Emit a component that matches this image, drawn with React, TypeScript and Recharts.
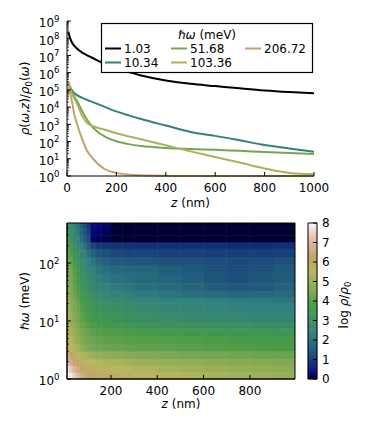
import React from 'react';
import { LineChart, Line, XAxis, YAxis, ComposedChart, Scatter, ReferenceArea } from 'recharts';

const FONT = "'DejaVu Sans', 'Bitstream Vera Sans', sans-serif";

// ---------------- top panel: log10(rho/rho0) vs z ----------------
const Z_NM = [5, 10, 20, 30, 40, 60, 80, 100, 150, 200, 250, 300, 400, 500, 600, 700, 800, 900, 1000];
const LOG_RHO_1_03 = [8.39, 8.12, 7.75, 7.55, 7.4, 7.18, 7.02, 6.88, 6.52, 6.26, 6.03, 5.84, 5.55, 5.35, 5.22, 5.09, 4.97, 4.88, 4.81];
const LOG_RHO_10_34 = [5.45, 5.25, 4.98, 4.8, 4.7, 4.55, 4.43, 4.32, 4.03, 3.75, 3.52, 3.31, 2.93, 2.56, 2.33, 2.07, 1.8, 1.6, 1.41];
const LOG_RHO_51_68 = [5.45, 5.2, 4.85, 4.6, 4.38, 3.8, 3.3, 2.9, 2.32, 2.02, 1.85, 1.74, 1.63, 1.57, 1.52, 1.46, 1.4, 1.34, 1.28];
const LOG_RHO_103_36 = [5.45, 5.2, 4.8, 4.5, 4.22, 3.52, 3.1, 2.92, 2.7, 2.48, 2.3, 2.13, 1.78, 1.43, 1.1, 0.78, 0.44, 0.18, 0.1];
const LOG_RHO_206_72 = [5.45, 5.0, 4.35, 3.55, 3.05, 2.2, 1.5, 1.1, 0.42, 0.18, 0.08, 0.04, 0.01, 0, 0, 0, 0, 0, 0];
const ENERGY_LABELS = ['1.03', '10.34', '51.68', '103.36', '206.72'];
const SERIES_COLORS = ['#000000', '#31837a', '#79a552', '#a8b25c', '#c3a364'];
const TOP_X_TICKS = [0, 200, 400, 600, 800, 1000];
const TOP_Y_DECADES = [0, 1, 2, 3, 4, 5, 6, 7, 8, 9];

// ---------------- bottom panel: heat map of log10(rho/rho0) ----------------
const HEAT_Z_EDGES = [10, 20, 35, 50, 65, 80, 95, 113, 135, 160, 200, 250, 300, 400, 500, 600, 700, 800, 900, 995];
const HEAT_OMEGA_EDGES = [1, 1.3, 1.7, 2.2, 3, 4, 5.5, 7.5, 10, 14, 20, 25, 32, 45, 65, 90, 125, 175, 230, 300, 400, 490];
// rows from lowest energy (bottom) to highest energy (top); one value per z column
const HEAT_LOG_RHO = [
  [8.0, 7.8, 7.45, 7.1, 6.8, 6.55, 6.35, 6.2, 6.1, 6.0, 5.9, 5.8, 5.65, 5.5, 5.4, 5.3, 5.2, 5.1, 5.0],
  [7.75, 7.35, 7.0, 6.65, 6.4, 6.2, 6.05, 5.95, 5.85, 5.75, 5.65, 5.55, 5.4, 5.25, 5.15, 5.05, 4.95, 4.85, 4.8],
  [7.2, 6.85, 6.5, 6.2, 6.0, 5.85, 5.7, 5.6, 5.5, 5.4, 5.3, 5.2, 5.05, 4.95, 4.85, 4.75, 4.7, 4.6, 4.55],
  [6.7, 6.35, 6.0, 5.7, 5.5, 5.35, 5.2, 5.1, 5.0, 4.9, 4.8, 4.7, 4.6, 4.5, 4.4, 4.35, 4.3, 4.25, 4.2],
  [6.0, 5.7, 5.4, 5.1, 4.85, 4.65, 4.5, 4.4, 4.3, 4.2, 4.15, 4.1, 4.05, 4.0, 3.95, 3.9, 3.85, 3.8, 3.75],
  [5.8, 5.5, 5.2, 4.9, 4.65, 4.45, 4.3, 4.2, 4.1, 4.05, 4.0, 3.95, 3.9, 3.85, 3.8, 3.75, 3.7, 3.65, 3.6],
  [5.6, 5.3, 5.0, 4.7, 4.45, 4.25, 4.1, 4.0, 3.9, 3.85, 3.8, 3.75, 3.7, 3.6, 3.55, 3.5, 3.45, 3.4, 3.35],
  [5.4, 5.1, 4.8, 4.5, 4.25, 4.05, 3.9, 3.75, 3.65, 3.55, 3.45, 3.35, 3.25, 3.15, 3.05, 3.0, 2.95, 2.9, 2.85],
  [5.3, 5.0, 4.65, 4.35, 4.1, 3.9, 3.7, 3.55, 3.4, 3.3, 3.2, 3.1, 2.95, 2.8, 2.7, 2.65, 2.6, 2.55, 2.5],
  [5.2, 4.85, 4.5, 4.2, 3.95, 3.7, 3.5, 3.35, 3.2, 3.05, 2.95, 2.85, 2.7, 2.55, 2.45, 2.4, 2.35, 2.3, 2.25],
  [5.1, 4.75, 4.4, 4.1, 3.8, 3.55, 3.35, 3.15, 3.0, 2.85, 2.75, 2.65, 2.5, 2.4, 2.3, 2.25, 2.2, 2.15, 2.1],
  [5.0, 4.6, 4.25, 3.9, 3.6, 3.35, 3.1, 2.9, 2.7, 2.55, 2.4, 2.3, 2.15, 2.05, 1.95, 1.85, 1.8, 1.8, 1.85],
  [4.9, 4.5, 4.1, 3.75, 3.45, 3.15, 2.9, 2.65, 2.45, 2.3, 2.15, 2.05, 1.95, 1.85, 1.75, 1.6, 1.5, 1.55, 1.65],
  [4.8, 4.4, 4.0, 3.6, 3.3, 3.0, 2.7, 2.45, 2.25, 2.1, 2.0, 1.9, 1.8, 1.7, 1.6, 1.45, 1.35, 1.45, 1.55],
  [4.7, 4.3, 3.85, 3.45, 3.1, 2.8, 2.5, 2.25, 2.05, 1.9, 1.8, 1.75, 1.7, 1.6, 1.5, 1.4, 1.3, 1.4, 1.5],
  [4.5, 4.1, 3.65, 3.25, 2.9, 2.55, 2.25, 2.0, 1.8, 1.65, 1.55, 1.5, 1.45, 1.4, 1.35, 1.3, 1.25, 1.3, 1.35],
  [4.2, 3.8, 3.35, 2.95, 2.6, 2.25, 1.95, 1.65, 1.45, 1.35, 1.25, 1.2, 1.2, 1.15, 1.15, 1.1, 1.1, 1.1, 1.15],
  [3.9, 3.45, 3.0, 2.6, 2.25, 1.9, 1.6, 1.2, 1.0, 0.95, 0.9, 0.9, 0.85, 0.85, 0.85, 0.85, 0.8, 0.8, 0.85],
  [3.6, 3.15, 2.7, 2.3, 1.95, 1.6, 1.3, 0.2, 0.15, 0.1, 0.05, 0.05, 0.05, 0.05, 0.05, 0.05, 0.05, 0.05, 0.05],
  [3.4, 2.95, 2.5, 2.1, 1.75, 1.4, 1.1, 0.3, 0.25, 0.15, 0.05, 0.05, 0.05, 0.05, 0.05, 0.05, 0.05, 0.05, 0.05],
  [3.2, 2.8, 2.35, 1.95, 1.6, 1.25, 0.95, 0.35, 0.3, 0.25, 0.05, 0.05, 0.05, 0.05, 0.05, 0.05, 0.05, 0.05, 0.05],
];
const HEAT_X_TICKS = [200, 400, 600, 800];
const HEAT_OMEGA_DOMAIN = [1, 490];
const COLORBAR_TICKS = [0, 1, 2, 3, 4, 5, 6, 7, 8];

// ---------------- gist_earth colour map (style) ----------------
const GE_R: number[][] = [[0, 0], [0.2824, 0.1882], [0.4588, 0.2714], [0.549, 0.4719], [0.698, 0.7176], [0.7882, 0.7553], [1, 0.9922]];
const GE_G: number[][] = [[0, 0], [0.0275, 0], [0.1098, 0.1893], [0.1647, 0.3035], [0.2078, 0.3841], [0.2824, 0.502], [0.5216, 0.6397], [0.698, 0.7171], [0.7882, 0.6392], [0.8157, 0.6549], [0.8667, 0.6991], [0.898, 0.743], [0.9412, 0.8275], [0.9647, 0.8816], [0.9961, 0.9733], [1, 0.9843]];
const GE_B: number[][] = [[0, 0], [0.0039, 0.1684], [0.0078, 0.2212], [0.0275, 0.4329], [0.0314, 0.4549], [0.2824, 0.5004], [0.4667, 0.2748], [0.5451, 0.3205], [0.7843, 0.3961], [0.8941, 0.6651], [1, 0.9843]];
const seg = (pts: number[][], t: number) => {
  for (let i = 1; i < pts.length; i++) {
    if (t <= pts[i][0]) {
      const [t0, v0] = pts[i - 1];
      const [t1, v1] = pts[i];
      return v0 + ((t - t0) / (t1 - t0)) * (v1 - v0);
    }
  }
  return pts[pts.length - 1][1];
};
const gistEarth = (v: number) => {
  const t = Math.max(0, Math.min(1, v / 8));
  const c = (x: number) => Math.round(x * 255);
  return `rgb(${c(seg(GE_R, t))},${c(seg(GE_G, t))},${c(seg(GE_B, t))})`;
};

// ---------------- tick renderers (inward ticks, matplotlib classic) ----------------
const isDecade = (v: number) => Math.abs(v - Math.round(v)) < 1e-9;
const Pow10 = ({ x, y, n }: any) => (
  <text x={x} y={y} textAnchor="end" fontSize={12} fontFamily={FONT} fill="#000">
    10<tspan dy={-5.5} fontSize={8.5}>{n}</tspan>
  </text>
);

const LeftLogValueTick = (p: any) => {
  const { x, y, payload } = p;
  const v = payload.value;
  const maj = isDecade(v);
  return (
    <g>
      <line x1={x} x2={x + (maj ? 4 : 2)} y1={y} y2={y} stroke="#000" strokeWidth={maj ? 1 : 0.7} />
      {maj && <Pow10 x={x - 7.5} y={y + 6.3} n={Math.round(v)} />}
    </g>
  );
};
const RightLogValueTick = (p: any) => {
  const { x, y, payload } = p;
  const maj = isDecade(payload.value);
  return <line x1={x} x2={x - (maj ? 4 : 2)} y1={y} y2={y} stroke="#000" strokeWidth={maj ? 1 : 0.7} />;
};
const LeftOmegaTick = (p: any) => {
  const { x, y, payload } = p;
  const lg = Math.log10(payload.value);
  const maj = isDecade(lg);
  return (
    <g>
      <line x1={x} x2={x + (maj ? 4 : 2)} y1={y} y2={y} stroke="#000" strokeWidth={maj ? 1 : 0.7} />
      {maj && <Pow10 x={x - 7.5} y={y + 6.3} n={Math.round(lg)} />}
    </g>
  );
};
const RightOmegaTick = (p: any) => {
  const { x, y, payload } = p;
  const maj = isDecade(Math.log10(payload.value));
  return <line x1={x} x2={x - (maj ? 4 : 2)} y1={y} y2={y} stroke="#000" strokeWidth={maj ? 1 : 0.7} />;
};
const BottomTick = (p: any) => {
  const { x, y, payload } = p;
  return (
    <g>
      <line x1={x} x2={x} y1={y} y2={y - 4} stroke="#000" />
      <text x={x} y={y + 15.5} textAnchor="middle" fontSize={12} fontFamily={FONT} fill="#000">{payload.value}</text>
    </g>
  );
};
const TopTick = (p: any) => {
  const { x, y } = p;
  return <line x1={x} x2={x} y1={y} y2={y + 4} stroke="#000" />;
};
const ColorbarTick = (p: any) => {
  const { x, y, payload } = p;
  return (
    <g>
      <line x1={x} x2={x - 4} y1={y} y2={y} stroke="#000" />
      <text x={x + 5} y={y + 4.4} textAnchor="start" fontSize={12} fontFamily={FONT} fill="#000">{payload.value}</text>
    </g>
  );
};

const topYTicks: number[] = [];
TOP_Y_DECADES.forEach((d) => {
  topYTicks.push(d);
  if (d < 9) for (let k = 2; k <= 9; k++) topYTicks.push(d + Math.log10(k));
});
const omegaTicks: number[] = [];
[1, 10, 100].forEach((d) => {
  for (let k = 1; k <= 9; k++) if (d * k <= HEAT_OMEGA_DOMAIN[1]) omegaTicks.push(d * k);
});

const topData = Z_NM.map((z, i) => ({
  z,
  e0: LOG_RHO_1_03[i],
  e1: LOG_RHO_10_34[i],
  e2: LOG_RHO_51_68[i],
  e3: LOG_RHO_103_36[i],
  e4: LOG_RHO_206_72[i],
}));

const heatCells: { x1: number; x2: number; y1: number; y2: number; v: number }[] = [];
HEAT_LOG_RHO.forEach((row, r) => {
  row.forEach((v, c) => {
    heatCells.push({ x1: HEAT_Z_EDGES[c], x2: HEAT_Z_EDGES[c + 1], y1: HEAT_OMEGA_EDGES[r], y2: HEAT_OMEGA_EDGES[r + 1], v });
  });
});
const heatCenters = heatCells.map((c) => ({ z: (c.x1 + c.x2) / 2, w: Math.sqrt(c.y1 * c.y2) }));
const colorbarSteps: number[] = [];
for (let i = 0; i < 80; i++) colorbarSteps.push(i / 10);
const colorbarAnchors = [{ x: 0, v: 0 }, { x: 1, v: 8 }];

const it = (s: string) => <tspan fontStyle="italic">{s}</tspan>;

export default function App() {
  return (
    <div style={{ position: 'absolute', left: 0, top: 0, width: 374, height: 421, background: '#fff', fontFamily: FONT }}>
      {/* top panel */}
      <div style={{ position: 'absolute', left: 0, top: 0 }}>
        <LineChart width={374} height={215} data={topData} margin={{ top: 21, right: 60, bottom: 9, left: 17 }}>
          <XAxis dataKey="z" type="number" domain={[0, 1000]} ticks={TOP_X_TICKS} interval={0} height={30}
            tickLine={false} tickSize={0} tickMargin={0} axisLine={{ stroke: '#000' }} tick={(p: any) => <BottomTick {...p} />} />
          <XAxis xAxisId="top" orientation="top" dataKey="z" type="number" domain={[0, 1000]} ticks={TOP_X_TICKS} interval={0} height={0}
            tickLine={false} tickSize={0} tickMargin={0} axisLine={{ stroke: '#000' }} tick={(p: any) => <TopTick {...p} />} />
          <YAxis type="number" domain={[0, 9]} ticks={topYTicks} interval={0} width={50}
            tickLine={false} tickSize={0} tickMargin={0} axisLine={{ stroke: '#000' }} tick={(p: any) => <LeftLogValueTick {...p} />} />
          <YAxis yAxisId="right" orientation="right" type="number" domain={[0, 9]} ticks={topYTicks} interval={0} width={0}
            tickLine={false} tickSize={0} tickMargin={0} axisLine={{ stroke: '#000' }} tick={(p: any) => <RightLogValueTick {...p} />} />
          {['e0', 'e1', 'e2', 'e3', 'e4'].map((k, i) => (
            <Line key={k} dataKey={k} type="monotone" stroke={SERIES_COLORS[i]} strokeWidth={2} dot={false} isAnimationActive={false} />
          ))}
        </LineChart>
      </div>

      {/* heat map */}
      <div style={{ position: 'absolute', left: 0, top: 200 }}>
        <ComposedChart width={300} height={221} data={heatCenters} margin={{ top: 23, right: 5, bottom: 12, left: 17 }}>
          <XAxis dataKey="z" type="number" domain={[10, 995]} ticks={HEAT_X_TICKS} interval={0} height={30} allowDataOverflow
            tickLine={false} tickSize={0} tickMargin={0} axisLine={{ stroke: '#000' }} tick={(p: any) => <BottomTick {...p} />} />
          <XAxis xAxisId="top" orientation="top" dataKey="z" type="number" domain={[10, 995]} ticks={HEAT_X_TICKS} interval={0} height={0} allowDataOverflow
            tickLine={false} tickSize={0} tickMargin={0} axisLine={{ stroke: '#000' }} tick={(p: any) => <TopTick {...p} />} />
          <YAxis dataKey="w" type="number" scale="log" domain={HEAT_OMEGA_DOMAIN} ticks={omegaTicks} interval={0} width={50} allowDataOverflow
            tickLine={false} tickSize={0} tickMargin={0} axisLine={{ stroke: '#000' }} tick={(p: any) => <LeftOmegaTick {...p} />} />
          <YAxis yAxisId="right" orientation="right" dataKey="w" type="number" scale="log" domain={HEAT_OMEGA_DOMAIN} ticks={omegaTicks} interval={0} width={0} allowDataOverflow
            tickLine={false} tickSize={0} tickMargin={0} axisLine={{ stroke: '#000' }} tick={(p: any) => <RightOmegaTick {...p} />} />
          {heatCells.map((c, i) => (
            <ReferenceArea key={i} x1={c.x1} x2={c.x2} y1={c.y1} y2={c.y2} fill={gistEarth(c.v)} fillOpacity={1}
              stroke={gistEarth(c.v)} strokeWidth={0.6} ifOverflow="hidden" />
          ))}
          <Scatter data={heatCenters} dataKey="w" isAnimationActive={false} shape={() => <g />} />
          <ReferenceArea x1={10} x2={995} y1={1} y2={490} fill="none" stroke="#000" strokeWidth={1} />
        </ComposedChart>
      </div>

      {/* colour bar */}
      <div style={{ position: 'absolute', left: 300, top: 200 }}>
        <ComposedChart width={74} height={221} data={colorbarAnchors} margin={{ top: 23, right: 0, bottom: 42, left: 8 }}>
          <XAxis type="number" dataKey="x" domain={[0, 1]} hide />
          <YAxis orientation="right" dataKey="v" type="number" domain={[0, 8]} ticks={COLORBAR_TICKS} interval={0} width={57}
            tickLine={false} tickSize={0} tickMargin={0} axisLine={false} tick={(p: any) => <ColorbarTick {...p} />} />
          {colorbarSteps.map((s) => (
            <ReferenceArea key={s} x1={0} x2={1} y1={s} y2={s + 0.1} fill={gistEarth(s + 0.05)} fillOpacity={1}
              stroke={gistEarth(s + 0.05)} strokeWidth={0.5} />
          ))}
          <Scatter dataKey="v" isAnimationActive={false} shape={() => <g />} />
          <ReferenceArea x1={0} x2={1} y1={0} y2={8} fill="none" stroke="#000" strokeWidth={1} />
        </ComposedChart>
      </div>

      {/* legend and axis titles */}
      <svg width={374} height={421} style={{ position: 'absolute', left: 0, top: 0, pointerEvents: 'none' }} fontFamily={FONT}>
        <rect x={101.5} y={23.5} width={211} height={49} fill="#fff" stroke="#000" strokeWidth={1.2} />
        <text x={207} y={38.5} textAnchor="middle" fontSize={12}>{it('ℏω')} (meV)</text>
        {ENERGY_LABELS.map((lab, i) => {
          const col = Math.floor(i / 2);
          const row = i % 2;
          const lx = [105, 171, 245][col];
          const ly = [48.5, 62.5][row];
          return (
            <g key={lab}>
              <line x1={lx} x2={lx + 16} y1={ly} y2={ly} stroke={SERIES_COLORS[i]} strokeWidth={2} />
              <text x={lx + 19} y={ly + 4.3} fontSize={12}>{lab}</text>
            </g>
          );
        })}
        <text transform="translate(29,98.5) rotate(-90)" textAnchor="middle" fontSize={12}>
          {it('ρ')}({it('ω')},{it('z')})/{it('ρ')}<tspan dy={3} fontSize={8.5}>0</tspan><tspan dy={-3}>(</tspan>{it('ω')})
        </text>
        <text x={190.5} y={206.5} textAnchor="middle" fontSize={12}>{it('z')} (nm)</text>
        <text transform="translate(29,301) rotate(-90)" textAnchor="middle" fontSize={12}>{it('ℏω')} (meV)</text>
        <text x={181} y={408} textAnchor="middle" fontSize={12}>{it('z')} (nm)</text>
        <text transform="translate(348,305) rotate(-90)" textAnchor="middle" fontSize={12}>
          log {it('ρ')}/{it('ρ')}<tspan dy={3} fontSize={8.5}>0</tspan>
        </text>
      </svg>
    </div>
  );
}
